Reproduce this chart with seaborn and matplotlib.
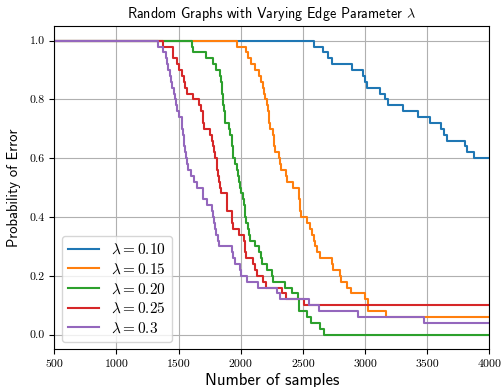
import matplotlib
matplotlib.use("Agg")
import matplotlib.pyplot as plt
import seaborn as sns
import pandas as pd

# ---- data: step positions (samples) and error probability after each step ----
samples_010 = [500, 2592, 2659, 2705, 2737, 2898, 2986, 2998, 3013, 3121, 3163, 3187,
               3308, 3424, 3520, 3614, 3638, 3662, 3805, 3818, 3874, 4000]
error_010 = [1.00, 0.98, 0.96, 0.94, 0.92, 0.90, 0.88, 0.86, 0.84, 0.82, 0.80, 0.78,
             0.76, 0.74, 0.72, 0.70, 0.68, 0.66, 0.64, 0.62, 0.60, 0.60]

samples_015 = [500, 1968, 2040, 2061, 2080, 2115, 2150, 2161, 2177, 2185, 2193, 2209,
               2218, 2225, 2230, 2235, 2262, 2266, 2270, 2274, 2308, 2316, 2322, 2360,
               2370, 2418, 2466, 2470, 2474, 2478, 2482, 2530, 2560, 2575, 2590, 2600,
               2615, 2640, 2732, 2740, 2799, 2805, 2853, 2885, 3000, 3020, 3024, 3172, 4000]
error_015 = [1.00, 0.98, 0.96, 0.94, 0.92, 0.90, 0.88, 0.86, 0.84, 0.82, 0.80, 0.78,
             0.76, 0.74, 0.72, 0.70, 0.68, 0.66, 0.64, 0.62, 0.60, 0.58, 0.56, 0.54,
             0.52, 0.50, 0.48, 0.46, 0.44, 0.42, 0.40, 0.38, 0.36, 0.34, 0.32, 0.30,
             0.28, 0.26, 0.24, 0.22, 0.20, 0.18, 0.16, 0.14, 0.12, 0.10, 0.08, 0.06, 0.06]

samples_020 = [500, 1610, 1613, 1720, 1774, 1801, 1833, 1840, 1845, 1850, 1855, 1860,
               1865, 1869, 1873, 1906, 1915, 1927, 1933, 1938, 1941, 1954, 1970, 1981,
               1986, 1994, 2005, 2015, 2022, 2030, 2034, 2045, 2055, 2062, 2075, 2115,
               2150, 2160, 2169, 2209, 2249, 2262, 2352, 2414, 2463, 2467, 2472, 2531,
               2565, 2636, 2670, 4000]
error_020 = [1.00, 0.98, 0.96, 0.94, 0.92, 0.90, 0.88, 0.86, 0.84, 0.82, 0.80, 0.78,
             0.76, 0.74, 0.72, 0.70, 0.68, 0.66, 0.64, 0.62, 0.60, 0.58, 0.56, 0.54,
             0.52, 0.50, 0.48, 0.46, 0.44, 0.42, 0.40, 0.38, 0.36, 0.34, 0.32, 0.30,
             0.28, 0.26, 0.24, 0.22, 0.20, 0.18, 0.16, 0.14, 0.12, 0.10, 0.08, 0.06,
             0.04, 0.02, 0.00, 0.00]

samples_025 = [500, 1372, 1452, 1455, 1485, 1500, 1525, 1545, 1550, 1565, 1613, 1667,
               1680, 1694, 1699, 1705, 1753, 1770, 1776, 1785, 1795, 1807, 1812, 1818,
               1828, 1833, 1840, 1887, 1890, 1893, 1927, 1931, 1940, 1985, 2025, 2030,
               2036, 2042, 2101, 2115, 2128, 2182, 2204, 2330, 2360, 2510, 4000]
error_025 = [1.00, 0.98, 0.96, 0.94, 0.92, 0.90, 0.88, 0.86, 0.84, 0.82, 0.80, 0.78,
             0.76, 0.74, 0.72, 0.70, 0.68, 0.66, 0.64, 0.62, 0.60, 0.58, 0.56, 0.54,
             0.52, 0.50, 0.48, 0.46, 0.44, 0.42, 0.40, 0.38, 0.36, 0.34, 0.32, 0.30,
             0.28, 0.26, 0.24, 0.22, 0.20, 0.18, 0.16, 0.14, 0.12, 0.10, 0.10]

samples_030 = [500, 1337, 1377, 1395, 1409, 1418, 1430, 1436, 1445, 1463, 1471, 1480,
               1490, 1506, 1525, 1530, 1533, 1540, 1545, 1552, 1560, 1565, 1575, 1597,
               1624, 1646, 1694, 1700, 1726, 1767, 1775, 1785, 1793, 1797, 1820, 1828,
               1927, 1935, 1950, 1990, 1998, 2048, 2142, 2289, 2316, 2552, 2630, 2944,
               3470, 4000]
error_030 = [1.00, 0.98, 0.96, 0.94, 0.92, 0.90, 0.88, 0.86, 0.84, 0.82, 0.80, 0.78,
             0.76, 0.74, 0.72, 0.70, 0.68, 0.66, 0.64, 0.62, 0.60, 0.58, 0.56, 0.54,
             0.52, 0.50, 0.48, 0.46, 0.44, 0.42, 0.40, 0.38, 0.36, 0.34, 0.32, 0.30,
             0.28, 0.26, 0.24, 0.22, 0.20, 0.18, 0.16, 0.14, 0.12, 0.10, 0.08, 0.06,
             0.04, 0.04]

series_labels = [r"$\lambda = 0.10$", r"$\lambda = 0.15$", r"$\lambda = 0.20$",
                 r"$\lambda = 0.25$", r"$\lambda = 0.3$"]
x_ticks = [500, 1000, 1500, 2000, 2500, 3000, 3500, 4000]
y_ticks = [0.0, 0.2, 0.4, 0.6, 0.8, 1.0]

# ---- build long table ----
frames = []
for lab, xs, ys in zip(series_labels,
                       [samples_010, samples_015, samples_020, samples_025, samples_030],
                       [error_010, error_015, error_020, error_025, error_030]):
    frames.append(pd.DataFrame({"samples": xs, "error": ys, "lam": lab}))
df = pd.concat(frames, ignore_index=True)

plt.rcParams["mathtext.fontset"] = "cm"
plt.rcParams["axes.formatter.use_mathtext"] = True

fig = plt.figure(figsize=(5.03, 3.87), dpi=100)
ax = fig.add_axes([0.108, 0.0974, 0.865, 0.8356])

palette = ["#1f77b4", "#ff7f0e", "#2ca02c", "#d62728", "#9467bd"]
sns.lineplot(data=df, x="samples", y="error", hue="lam", hue_order=series_labels,
             palette=palette, estimator=None, sort=False, drawstyle="steps-post",
             linewidth=1.5, ax=ax)

ax.set_xlim(500, 4000)
ax.set_ylim(-0.05, 1.05)
ax.set_xticks(x_ticks)
ax.set_yticks(y_ticks)
ax.set_xticklabels([str(t) for t in x_ticks], fontfamily="cmr10", fontsize=8.5)
ax.set_yticklabels([f"{t:.1f}" for t in y_ticks], fontfamily="cmr10", fontsize=8.5)
ax.grid(True, color="#b0b0b0", linewidth=0.8)
ax.set_axisbelow(True)
for s in ax.spines.values():
    s.set_color("black")
    s.set_linewidth(0.8)

ax.set_title(r"Random Graphs with Varying Edge Parameter $\lambda$",
             fontfamily="cmss10", fontsize=10.2, pad=6)
ax.set_xlabel("Number of samples", fontfamily="cmss10", fontsize=12, labelpad=3)
ax.set_ylabel("Probability of Error", fontfamily="cmss10", fontsize=10.5, labelpad=6)

ax.legend(loc="lower left", fontsize=11, labelspacing=0.3, framealpha=0.8,
          edgecolor="#cccccc", handlelength=2.0)

fig.savefig("out.png", dpi=100)
